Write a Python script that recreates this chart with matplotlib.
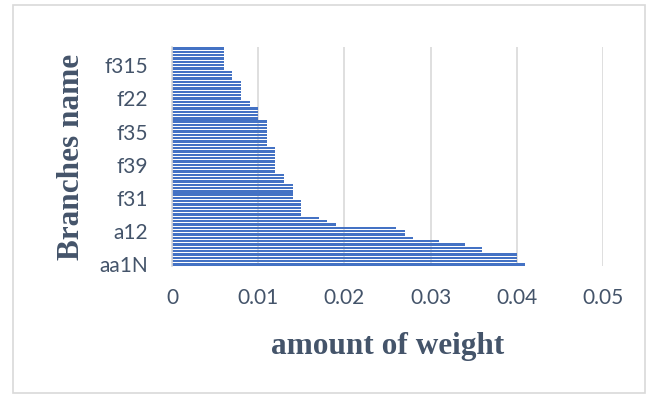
import matplotlib
matplotlib.use("Agg")
import matplotlib.pyplot as plt
from matplotlib.patches import Rectangle

# bar values from the bottom category (aa1N) to the top one
weights = ([0.041] + [0.040] * 3 + [0.036] * 2 + [0.034, 0.031, 0.028]
           + [0.027] * 2 + [0.026, 0.019, 0.018, 0.017]
           + [0.015] * 5 + [0.014] * 5 + [0.013] * 3 + [0.012] * 8
           + [0.011] * 8 + [0.010] * 4 + [0.009] * 2 + [0.008] * 6
           + [0.007] * 3 + [0.006] * 7)

# only every tenth category name is printed on the chart
label_pos = [0, 10, 20, 30, 40, 50, 60]
label_names = ["aa1N", "a12", "f31", "f39", "f35", "f22", "f315"]
xticks = [0, 0.01, 0.02, 0.03, 0.04, 0.05]
xtick_labels = ["0", "0.01", "0.02", "0.03", "0.04", "0.05"]

text_col = "#44546a"
grid_col = "#d9d9d9"

fig = plt.figure(figsize=(6.59, 3.94), dpi=100)
fig.patches.append(Rectangle((13 / 659, 1 / 394), 632 / 659, 388 / 394,
                             transform=fig.transFigure, fill=False,
                             edgecolor=grid_col, lw=1.2))

ax = fig.add_axes([172 / 659, 1 - 266 / 394, 431 / 659, 219 / 394])
ax.barh(range(len(weights)), weights, height=0.72, color="#4472c4", zorder=3)

ax.set_xlim(0, 0.05)
ax.set_ylim(-0.5, len(weights) - 0.5)
ax.set_xticks(xticks)
ax.set_xticklabels(xtick_labels)
ax.set_yticks(label_pos)
ax.set_yticklabels(label_names)
ax.tick_params(length=0, labelsize=15, labelcolor=text_col)
ax.tick_params(axis="x", pad=16)
ax.tick_params(axis="y", pad=17)
for t in ax.get_xticklabels() + ax.get_yticklabels():
    t.set_fontfamily("Lato")

ax.grid(axis="x", color=grid_col, lw=1.2, zorder=0)
for s in ["top", "right", "bottom"]:
    ax.spines[s].set_visible(False)
ax.spines["left"].set_color(grid_col)
ax.spines["left"].set_linewidth(1.2)
ax.spines["left"].set_zorder(4)

ax.set_xlabel("amount of weight", fontfamily="Liberation Serif",
              fontweight="bold", fontsize=22.5, color=text_col, labelpad=17)
ax.set_ylabel("Branches name", fontfamily="Liberation Serif",
              fontweight="bold", fontsize=22.5, color=text_col, labelpad=10)

fig.savefig("out.png", dpi=100)
